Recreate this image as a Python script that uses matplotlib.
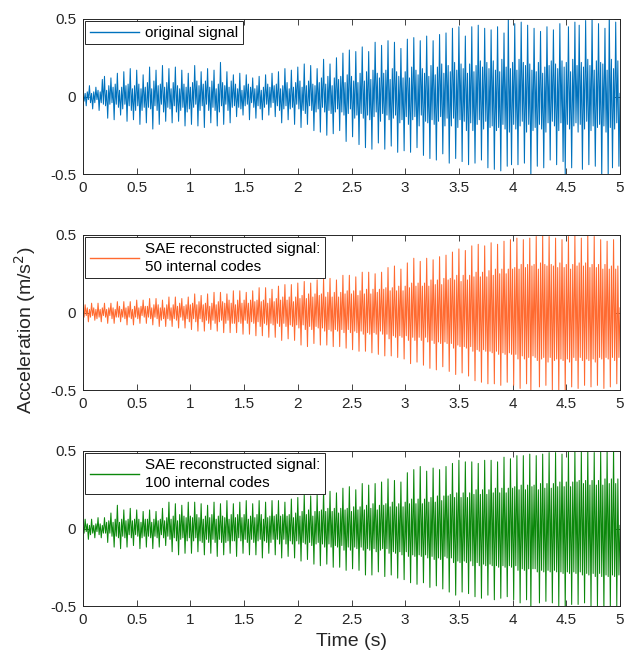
import numpy as np
import matplotlib.pyplot as plt
from matplotlib.ticker import FormatStrFormatter

plt.rcParams['font.family'] = ['Liberation Sans', 'DejaVu Sans']
plt.rcParams['path.simplify'] = False

# acceleration samples (m/s^2), read every 0.01 s from 0 to 5 s (one row = 0.2 s)
original = [
    0.00, -0.03, 0.02, -0.06, 0.03, -0.02, 0.07, -0.04, 0.02, -0.08, 0.03, -0.04, 0.06, -0.02, 0.04, -0.09, 0.03, -0.04, 0.11, -0.05,
    0.13, -0.06, 0.04, -0.14, 0.07, -0.05, 0.12, -0.04, 0.06, -0.15, 0.08, -0.05, 0.15, -0.07, 0.04, -0.12, 0.06, -0.08, 0.16, -0.05,
    0.07, -0.16, 0.08, -0.06, 0.18, -0.09, 0.05, -0.15, 0.07, -0.09, 0.17, -0.06, 0.08, -0.18, 0.05, -0.09, 0.14, -0.07, 0.06, -0.17,
    0.09, -0.07, 0.19, -0.08, 0.05, -0.21, 0.10, -0.06, 0.17, -0.09, 0.07, -0.18, 0.08, -0.05, 0.20, -0.10, 0.06, -0.16, 0.09, -0.07,
    0.18, -0.08, 0.05, -0.17, 0.09, -0.06, 0.19, -0.10, 0.07, -0.16, 0.05, -0.09, 0.17, -0.07, 0.08, -0.19, 0.06, -0.10, 0.15, -0.08,
    0.06, -0.18, 0.09, -0.07, 0.20, -0.05, 0.10, -0.19, 0.07, -0.09, 0.16, -0.06, 0.08, -0.20, 0.10, -0.05, 0.18, -0.09, 0.06, -0.17,
    0.10, -0.07, 0.17, -0.09, 0.05, -0.19, 0.08, -0.10, 0.22, -0.06, 0.09, -0.18, 0.07, -0.05, 0.16, -0.09, 0.06, -0.17, 0.10, -0.07,
    0.14, -0.06, 0.08, -0.13, 0.05, -0.07, 0.15, -0.08, 0.04, -0.12, 0.07, -0.06, 0.14, -0.05, 0.08, -0.15, 0.06, -0.04, 0.12, -0.07,
    0.05, -0.14, 0.07, -0.06, 0.13, -0.08, 0.04, -0.15, 0.06, -0.07, 0.14, -0.05, 0.08, -0.12, 0.06, -0.07, 0.15, -0.04, 0.07, -0.13,
    0.08, -0.06, 0.16, -0.09, 0.05, -0.17, 0.07, -0.08, 0.18, -0.06, 0.09, -0.15, 0.05, -0.08, 0.17, -0.07, 0.06, -0.18, 0.09, -0.05,
    0.19, -0.08, 0.10, -0.20, 0.06, -0.09, 0.21, -0.11, 0.07, -0.18, 0.10, -0.06, 0.20, -0.09, 0.08, -0.22, 0.07, -0.10, 0.18, -0.08,
    0.09, -0.23, 0.12, -0.07, 0.24, -0.10, 0.08, -0.25, 0.13, -0.09, 0.21, -0.11, 0.07, -0.24, 0.12, -0.10, 0.25, -0.08, 0.11, -0.22,
    0.13, -0.10, 0.28, -0.12, 0.09, -0.29, 0.14, -0.11, 0.30, -0.08, 0.13, -0.26, 0.10, -0.14, 0.29, -0.12, 0.09, -0.31, 0.15, -0.11,
    0.32, -0.14, 0.10, -0.33, 0.16, -0.12, 0.29, -0.15, 0.11, -0.34, 0.17, -0.13, 0.35, -0.10, 0.15, -0.30, 0.12, -0.16, 0.33, -0.11,
    0.15, -0.34, 0.17, -0.12, 0.36, -0.15, 0.11, -0.32, 0.18, -0.14, 0.35, -0.12, 0.16, -0.36, 0.13, -0.17, 0.31, -0.15, 0.12, -0.35,
    0.16, -0.13, 0.37, -0.18, 0.12, -0.36, 0.19, -0.15, 0.38, -0.13, 0.17, -0.33, 0.14, -0.19, 0.36, -0.12, 0.18, -0.38, 0.15, -0.16,
    0.39, -0.17, 0.13, -0.40, 0.20, -0.15, 0.36, -0.18, 0.14, -0.41, 0.19, -0.16, 0.40, -0.13, 0.21, -0.37, 0.15, -0.19, 0.41, -0.14,
    0.20, -0.43, 0.16, -0.19, 0.44, -0.14, 0.22, -0.40, 0.17, -0.20, 0.45, -0.15, 0.21, -0.42, 0.18, -0.16, 0.39, -0.22, 0.15, -0.44,
    0.21, -0.17, 0.45, -0.22, 0.16, -0.43, 0.20, -0.18, 0.46, -0.15, 0.23, -0.41, 0.19, -0.21, 0.44, -0.16, 0.22, -0.46, 0.18, -0.20,
    0.43, -0.19, 0.23, -0.47, 0.17, -0.22, 0.45, -0.20, 0.16, -0.48, 0.24, -0.18, 0.41, -0.21, 0.19, -0.45, 0.52, -0.23, 0.18, -0.44,
    0.22, -0.18, 0.47, -0.21, 0.17, -0.44, 0.24, -0.19, 0.48, -0.16, 0.22, -0.43, 0.20, -0.23, 0.46, -0.18, 0.21, -0.52, 0.17, -0.22,
    0.44, -0.20, 0.16, -0.45, 0.22, -0.18, 0.42, -0.21, 0.15, -0.46, 0.19, -0.23, 0.45, -0.17, 0.20, -0.41, 0.23, -0.16, 0.43, -0.19,
    0.21, -0.44, 0.18, -0.22, 0.47, -0.17, 0.23, -0.42, 0.19, -0.51, 0.22, -0.18, 0.45, -0.21, 0.16, -0.46, 0.24, -0.19, 0.48, -0.17,
    0.20, -0.23, 0.46, -0.18, 0.22, -0.47, 0.19, -0.21, 0.49, -0.16, 0.24, -0.44, 0.20, -0.22, 0.52, -0.19, 0.17, -0.45, 0.23, -0.20,
    0.47, -0.18, 0.22, -0.53, 0.21, -0.19, 0.44, -0.23, 0.17, -0.52, 0.55, -0.20, 0.24, -0.46, 0.18, -0.21, 0.48, -0.17, 0.23, -0.45,
    0.02,
]
sae_50 = [
    0.00, -0.03, 0.05, -0.02, 0.03, -0.06, 0.02, -0.03, 0.06, -0.02, 0.03, -0.05, 0.02, -0.04, 0.06, -0.03, 0.02, -0.06, 0.03, -0.02,
    0.06, -0.03, 0.02, -0.07, 0.03, -0.02, 0.06, -0.04, 0.03, -0.07, 0.02, -0.03, 0.07, -0.03, 0.04, -0.06, 0.02, -0.03, 0.07, -0.04,
    0.03, -0.08, 0.04, -0.03, 0.07, -0.04, 0.02, -0.08, 0.04, -0.03, 0.08, -0.04, 0.03, -0.07, 0.04, -0.02, 0.08, -0.03, 0.04, -0.07,
    0.04, -0.03, 0.09, -0.04, 0.03, -0.08, 0.05, -0.03, 0.09, -0.04, 0.05, -0.09, 0.03, -0.05, 0.08, -0.04, 0.03, -0.09, 0.05, -0.04,
    0.10, -0.05, 0.03, -0.09, 0.05, -0.04, 0.10, -0.05, 0.04, -0.10, 0.06, -0.03, 0.09, -0.05, 0.04, -0.10, 0.05, -0.04, 0.10, -0.06,
    0.05, -0.11, 0.06, -0.04, 0.12, -0.06, 0.05, -0.12, 0.07, -0.04, 0.11, -0.06, 0.05, -0.12, 0.06, -0.05, 0.12, -0.07, 0.04, -0.11,
    0.06, -0.05, 0.13, -0.07, 0.05, -0.12, 0.07, -0.06, 0.13, -0.05, 0.07, -0.13, 0.06, -0.07, 0.12, -0.05, 0.08, -0.13, 0.06, -0.07,
    0.14, -0.07, 0.05, -0.13, 0.08, -0.06, 0.14, -0.07, 0.06, -0.14, 0.08, -0.05, 0.13, -0.07, 0.06, -0.14, 0.08, -0.06, 0.14, -0.07,
    0.07, -0.15, 0.08, -0.06, 0.16, -0.09, 0.07, -0.15, 0.08, -0.07, 0.16, -0.08, 0.06, -0.16, 0.09, -0.07, 0.15, -0.08, 0.07, -0.16,
    0.09, -0.07, 0.17, -0.09, 0.08, -0.18, 0.10, -0.07, 0.18, -0.09, 0.08, -0.17, 0.10, -0.08, 0.18, -0.09, 0.07, -0.18, 0.10, -0.08,
    0.19, -0.10, 0.09, -0.21, 0.11, -0.08, 0.20, -0.11, 0.09, -0.22, 0.12, -0.09, 0.19, -0.11, 0.10, -0.20, 0.12, -0.09, 0.21, -0.10,
    0.11, -0.21, 0.12, -0.10, 0.22, -0.12, 0.10, -0.21, 0.13, -0.11, 0.22, -0.12, 0.10, -0.22, 0.13, -0.11, 0.21, -0.12, 0.10, -0.22,
    0.13, -0.11, 0.24, -0.13, 0.12, -0.23, 0.14, -0.11, 0.24, -0.13, 0.12, -0.24, 0.14, -0.12, 0.23, -0.13, 0.11, -0.25, 0.14, -0.12,
    0.26, -0.14, 0.12, -0.25, 0.15, -0.13, 0.26, -0.14, 0.12, -0.26, 0.15, -0.13, 0.25, -0.14, 0.13, -0.27, 0.15, -0.12, 0.26, -0.14,
    0.15, -0.28, 0.16, -0.14, 0.29, -0.17, 0.14, -0.28, 0.16, -0.15, 0.30, -0.16, 0.14, -0.29, 0.17, -0.15, 0.28, -0.16, 0.14, -0.30,
    0.17, -0.15, 0.32, -0.18, 0.16, -0.33, 0.19, -0.16, 0.35, -0.18, 0.17, -0.32, 0.19, -0.16, 0.33, -0.18, 0.17, -0.34, 0.19, -0.16,
    0.35, -0.19, 0.17, -0.36, 0.21, -0.18, 0.34, -0.20, 0.18, -0.37, 0.21, -0.19, 0.36, -0.20, 0.18, -0.35, 0.22, -0.19, 0.37, -0.20,
    0.21, -0.38, 0.22, -0.20, 0.39, -0.23, 0.21, -0.40, 0.24, -0.21, 0.41, -0.22, 0.20, -0.39, 0.24, -0.22, 0.40, -0.23, 0.21, -0.41,
    0.24, -0.22, 0.43, -0.25, 0.23, -0.44, 0.26, -0.24, 0.44, -0.25, 0.23, -0.45, 0.26, -0.24, 0.43, -0.25, 0.23, -0.46, 0.27, -0.25,
    0.45, -0.26, 0.24, -0.46, 0.28, -0.25, 0.44, -0.27, 0.25, -0.47, 0.28, -0.26, 0.46, -0.27, 0.25, -0.45, 0.28, -0.26, 0.47, -0.27,
    0.28, -0.47, 0.29, -0.27, 0.48, -0.30, 0.28, -0.49, 0.31, -0.28, 0.47, -0.30, 0.29, -0.46, 0.31, -0.29, 0.48, -0.52, 0.30, -0.28,
    0.31, -0.29, 0.49, -0.31, 0.28, -0.48, 0.32, -0.30, 0.50, -0.29, 0.31, -0.47, 0.30, -0.32, 0.49, -0.29, 0.31, -0.50, 0.30, -0.31,
    0.48, -0.30, 0.29, -0.51, 0.32, -0.30, 0.47, -0.31, 0.29, -0.52, 0.31, -0.30, 0.49, -0.32, 0.28, -0.48, 0.31, -0.29, 0.50, -0.31,
    0.30, -0.49, 0.32, -0.29, 0.48, -0.31, 0.30, -0.47, 0.32, -0.30, 0.51, -0.31, 0.29, -0.48, 0.31, -0.30, 0.49, -0.32, 0.29, -0.47,
    0.31, -0.29, 0.47, -0.30, 0.28, -0.49, 0.31, -0.29, 0.46, -0.30, 0.28, -0.48, 0.30, -0.29, 0.47, -0.31, 0.28, -0.46, 0.30, -0.29,
    0.03,
]
sae_100 = [
    0.00, -0.03, 0.06, -0.02, 0.03, -0.07, 0.02, -0.04, 0.06, -0.03, 0.02, -0.06, 0.03, -0.02, 0.07, -0.04, 0.03, -0.06, 0.02, -0.03,
    0.07, -0.03, 0.04, -0.09, 0.05, -0.03, 0.10, -0.05, 0.04, -0.12, 0.06, -0.05, 0.15, -0.06, 0.04, -0.13, 0.06, -0.05, 0.12, -0.06,
    0.05, -0.12, 0.06, -0.04, 0.13, -0.06, 0.05, -0.11, 0.06, -0.04, 0.12, -0.05, 0.06, -0.13, 0.04, -0.06, 0.11, -0.05, 0.06, -0.12,
    0.06, -0.05, 0.12, -0.06, 0.04, -0.13, 0.06, -0.05, 0.11, -0.06, 0.05, -0.12, 0.06, -0.04, 0.13, -0.06, 0.05, -0.11, 0.07, -0.05,
    0.17, -0.07, 0.06, -0.15, 0.08, -0.06, 0.16, -0.08, 0.05, -0.17, 0.09, -0.07, 0.15, -0.06, 0.08, -0.16, 0.07, -0.08, 0.17, -0.06,
    0.08, -0.16, 0.07, -0.08, 0.17, -0.06, 0.09, -0.15, 0.07, -0.08, 0.16, -0.09, 0.06, -0.17, 0.08, -0.07, 0.15, -0.09, 0.07, -0.16,
    0.09, -0.07, 0.17, -0.09, 0.06, -0.18, 0.08, -0.07, 0.16, -0.09, 0.08, -0.17, 0.07, -0.09, 0.18, -0.08, 0.06, -0.16, 0.09, -0.08,
    0.16, -0.08, 0.07, -0.18, 0.09, -0.06, 0.17, -0.08, 0.07, -0.16, 0.09, -0.07, 0.18, -0.09, 0.06, -0.17, 0.08, -0.07, 0.16, -0.09,
    0.07, -0.17, 0.09, -0.08, 0.18, -0.07, 0.09, -0.19, 0.06, -0.08, 0.17, -0.09, 0.07, -0.16, 0.08, -0.09, 0.18, -0.07, 0.08, -0.17,
    0.09, -0.07, 0.18, -0.10, 0.08, -0.19, 0.09, -0.07, 0.17, -0.10, 0.08, -0.18, 0.09, -0.08, 0.19, -0.10, 0.07, -0.19, 0.10, -0.08,
    0.20, -0.10, 0.08, -0.21, 0.11, -0.09, 0.22, -0.10, 0.09, -0.20, 0.12, -0.09, 0.21, -0.11, 0.08, -0.23, 0.11, -0.10, 0.22, -0.09,
    0.11, -0.24, 0.12, -0.10, 0.25, -0.12, 0.11, -0.23, 0.13, -0.10, 0.24, -0.12, 0.11, -0.25, 0.13, -0.11, 0.23, -0.12, 0.10, -0.25,
    0.13, -0.11, 0.26, -0.14, 0.12, -0.27, 0.13, -0.12, 0.27, -0.14, 0.11, -0.26, 0.14, -0.12, 0.25, -0.13, 0.12, -0.27, 0.14, -0.12,
    0.29, -0.14, 0.12, -0.30, 0.15, -0.13, 0.28, -0.14, 0.13, -0.30, 0.16, -0.13, 0.29, -0.15, 0.12, -0.28, 0.15, -0.14, 0.30, -0.13,
    0.15, -0.31, 0.16, -0.13, 0.32, -0.16, 0.14, -0.30, 0.17, -0.15, 0.31, -0.16, 0.14, -0.32, 0.16, -0.15, 0.30, -0.17, 0.14, -0.33,
    0.17, -0.15, 0.36, -0.18, 0.16, -0.35, 0.19, -0.17, 0.38, -0.18, 0.16, -0.36, 0.19, -0.17, 0.40, -0.18, 0.16, -0.35, 0.19, -0.17,
    0.37, -0.19, 0.17, -0.38, 0.20, -0.18, 0.39, -0.20, 0.17, -0.37, 0.21, -0.19, 0.38, -0.20, 0.18, -0.39, 0.21, -0.18, 0.40, -0.19,
    0.21, -0.41, 0.22, -0.19, 0.42, -0.22, 0.20, -0.43, 0.23, -0.21, 0.44, -0.22, 0.20, -0.41, 0.23, -0.21, 0.43, -0.22, 0.20, -0.42,
    0.23, -0.21, 0.43, -0.24, 0.22, -0.44, 0.25, -0.22, 0.42, -0.24, 0.22, -0.45, 0.25, -0.23, 0.44, -0.24, 0.22, -0.43, 0.25, -0.23,
    0.44, -0.24, 0.23, -0.46, 0.26, -0.24, 0.43, -0.25, 0.23, -0.45, 0.26, -0.24, 0.46, -0.25, 0.23, -0.44, 0.26, -0.24, 0.45, -0.25,
    0.26, -0.46, 0.27, -0.24, 0.47, -0.27, 0.25, -0.48, 0.28, -0.26, 0.47, -0.27, 0.25, -0.46, 0.28, -0.26, 0.48, -0.52, 0.27, -0.26,
    0.28, -0.26, 0.47, -0.28, 0.25, -0.48, 0.29, -0.27, 0.48, -0.28, 0.26, -0.47, 0.29, -0.27, 0.49, -0.28, 0.26, -0.48, 0.29, -0.27,
    0.49, -0.28, 0.27, -0.50, 0.30, -0.28, 0.48, -0.29, 0.27, -0.53, 0.30, -0.28, 0.50, -0.29, 0.27, -0.49, 0.30, -0.28, 0.51, -0.29,
    0.30, -0.49, 0.31, -0.28, 0.50, -0.30, 0.29, -0.48, 0.31, -0.29, 0.52, -0.30, 0.28, -0.50, 0.31, -0.29, 0.49, -0.31, 0.28, -0.50,
    0.31, -0.29, 0.50, -0.31, 0.28, -0.53, 0.32, -0.30, 0.51, -0.31, 0.29, -0.52, 0.32, -0.30, 0.53, -0.31, 0.29, -0.50, 0.32, -0.30,
    0.02,
]

series = [original, sae_50, sae_100]
labels = ['original signal',
          'SAE reconstructed signal:\n50 internal codes',
          'SAE reconstructed signal:\n100 internal codes']
colors = ['#0072BD', '#FF6A30', '#0B880B']
x_ticks = [0, 0.5, 1, 1.5, 2, 2.5, 3, 3.5, 4, 4.5, 5]
y_ticks = [-0.5, 0, 0.5]

W, H = 625, 662
fig = plt.figure(figsize=(W / 100, H / 100), dpi=100)

# axes boxes in pixels: (top, bottom)
rows_px = [(19, 174), (235, 390), (451, 606)]
left_px, right_px = 83, 620

for (top, bot), y, lab, col in zip(rows_px, series, labels, colors):
    ax = fig.add_axes([left_px / W, 1 - bot / H, (right_px - left_px) / W, (bot - top) / H])
    t = np.linspace(0, 5, len(y))
    ax.plot(t, y, color=col, lw=0.75, label=lab)
    ax.set_xlim(0, 5)
    ax.set_ylim(-0.5, 0.5)
    ax.set_xticks(x_ticks)
    ax.set_yticks(y_ticks)
    ax.xaxis.set_major_formatter(FormatStrFormatter('%g'))
    ax.yaxis.set_major_formatter(FormatStrFormatter('%g'))
    ax.tick_params(direction='in', top=True, right=True, length=4, width=0.6,
                   labelsize=11, colors='#262626', pad=5)
    for s in ax.spines.values():
        s.set_linewidth(0.7)
        s.set_color('#262626')
    leg = ax.legend(loc='upper left', fontsize=11, fancybox=False, framealpha=1,
                    edgecolor='#262626', borderaxespad=0.15, borderpad=0.3,
                    handlelength=3.2, handletextpad=0.4, labelspacing=0.2)
    leg.get_frame().set_linewidth(0.7)
    for txt in leg.get_texts():
        txt.set_linespacing(1.35)
    for line in leg.get_lines():
        line.set_linewidth(1.0)

fig.text(25 / W, 1 - 330 / H, 'Acceleration (m/s$^2$)', rotation=90,
         ha='center', va='center', fontsize=14, color='#262626')
fig.text((left_px + right_px) / 2 / W, 1 - 642 / H, 'Time (s)',
         ha='center', va='center', fontsize=14, color='#262626')

fig.savefig('out.png', dpi=100)
